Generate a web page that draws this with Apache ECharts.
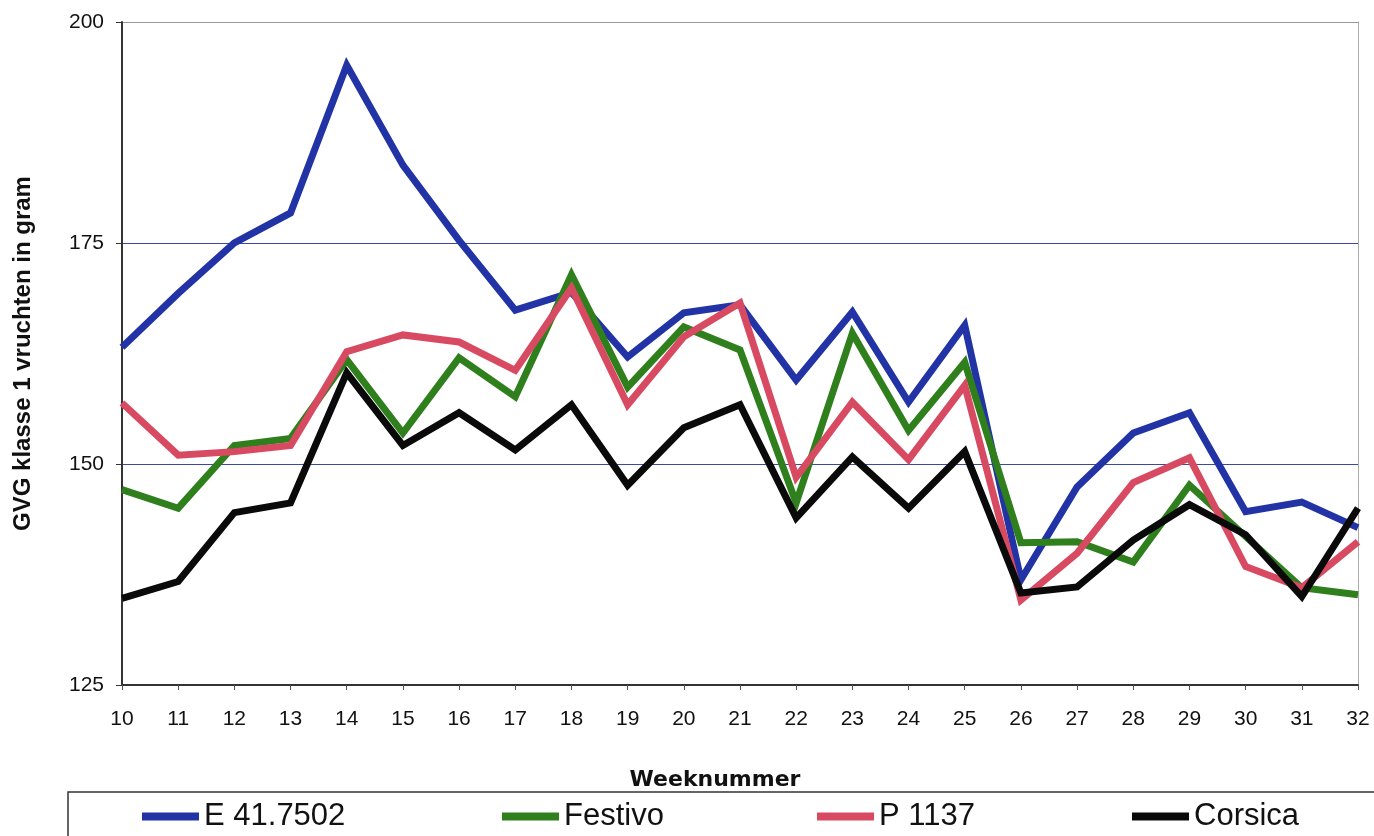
<!DOCTYPE html>
<html>
<head>
<meta charset="utf-8">
<script src="https://cdn.jsdelivr.net/npm/echarts@6/dist/echarts.min.js"></script>
<style>
html,body{margin:0;padding:0;background:#fff;}
#chart{width:1374px;height:836px;}
</style>
</head>
<body>
<div id="chart"></div>
<script>
const weeks = ['10','11','12','13','14','15','16','17','18','19','20','21','22','23','24','25','26','27','28','29','30','31','32'];
const e417502 = [163.2,169.3,175.0,178.4,195.1,183.8,175.3,167.4,169.4,162.1,167.1,168.0,159.5,167.2,157.0,165.7,136.9,147.4,153.5,155.8,144.6,145.7,142.8];
const festivo = [147.1,145.0,152.1,152.9,161.8,153.5,162.0,157.6,171.4,158.7,165.5,162.9,145.6,164.8,153.8,161.5,141.1,141.2,138.9,147.6,141.8,136.0,135.2];
const p1137 = [156.9,151.0,151.4,152.1,162.7,164.6,163.8,160.6,169.9,156.7,164.4,168.2,148.5,157.0,150.5,158.9,134.6,139.9,147.9,150.7,138.4,136.0,141.2];
const corsica = [134.8,136.7,144.5,145.6,160.3,152.1,155.8,151.6,156.7,147.6,154.1,156.7,143.9,150.8,145.0,151.4,135.4,136.1,141.4,145.4,142.0,135.0,145.0];
const seriesNames = ['E 41.7502','Festivo','P 1137','Corsica'];
const colors = ['#2233a6','#2f7f1c','#d84a62','#0a0a0a'];

const chart = echarts.init(document.getElementById('chart'));
const font = 'Arial, "Liberation Sans", sans-serif';
const dataArr = [e417502, festivo, p1137, corsica];
const legendLeft = [137, 497, 812, 1127];

chart.setOption({
  animation: false,
  backgroundColor: '#fff',
  grid: {left: 122, right: 16, top: 22, bottom: 151},
  xAxis: {
    type: 'category', data: weeks, boundaryGap: false,
    name: 'Weeknummer', nameLocation: 'middle', nameGap: 84,
    nameTextStyle: {fontFamily: '"DejaVu Sans", Arial, sans-serif', fontWeight: 'bold', fontSize: 22, color: '#111', padding:[0,50,0,0]},
    axisLine: {lineStyle: {color: '#333', width: 2}},
    axisTick: {show: true, alignWithLabel: true, length: 5, lineStyle: {color: '#555'}},
    axisLabel: {fontFamily: font, fontSize: 21, color: '#111', margin: 24, interval: 0},
    splitLine: {show: false}
  },
  yAxis: [{
    type: 'value', min: 125, max: 200, interval: 25,
    name: 'GVG klasse 1 vruchten in gram', nameLocation: 'middle', nameGap: 87,
    nameTextStyle: {fontFamily: font, fontWeight: 'bold', fontSize: 24, color: '#111'},
    axisLine: {show: true, lineStyle: {color: '#333', width: 2}},
    axisTick: {show: true, inside: false, length: 6, lineStyle: {color: '#333'}},
    axisLabel: {fontFamily: font, fontSize: 21, color: '#111', margin: 18},
    splitLine: {show: true, lineStyle: {color: ['#444', '#3b4a9c', '#3b4a9c', '#999'], width: 1}}
  },{
    type: 'value', min: 125, max: 200, interval: 25, position: 'right',
    axisLine: {show: true, lineStyle: {color: '#aaa', width: 1}},
    axisTick: {show: false}, axisLabel: {show: false}, splitLine: {show: false}
  }],
  legend: seriesNames.map((n, i) => ({
    data: [n], left: legendLeft[i], top: 796,
    icon: 'rect', itemWidth: 57, itemHeight: 8, itemGap: 0,
    textStyle: {fontFamily: font, fontSize: 31, color: '#111'}
  })),
  graphic: [{
    type: 'rect', shape: {x: 68, y: 792, width: 1330, height: 60},
    style: {fill: 'none', stroke: '#333', lineWidth: 1.5}
  }],
  series: seriesNames.map((n, i) => ({
    name: n, type: 'line', data: dataArr[i], symbol: 'none',
    lineStyle: {color: colors[i], width: 7, join: 'miter'},
    itemStyle: {color: colors[i]}
  }))
});
</script>
</body>
</html>
